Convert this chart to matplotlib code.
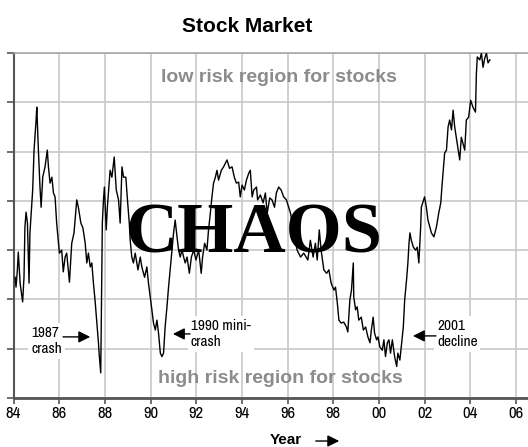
import matplotlib.pyplot as plt
from matplotlib.patches import FancyArrowPatch

# values (x = year, y = position in the 0..7 band)
years = [1984.07, 1984.11, 1984.17, 1984.21, 1984.29, 1984.40, 1984.46, 1984.50, 1984.55, 1984.61,
         1984.68, 1984.72, 1984.84, 1984.90, 1984.99, 1985.02, 1985.09, 1985.16, 1985.21, 1985.28,
         1985.38, 1985.48, 1985.53, 1985.60, 1985.68, 1985.75, 1985.82, 1985.89, 1986.01, 1986.11,
         1986.18, 1986.26, 1986.33, 1986.45, 1986.55, 1986.65, 1986.77, 1986.84, 1986.95, 1987.04,
         1987.14, 1987.21, 1987.28, 1987.36, 1987.43, 1987.50, 1987.57, 1987.65, 1987.72, 1987.76,
         1987.82, 1987.85, 1987.89, 1987.94, 1987.98, 1988.06, 1988.11, 1988.23, 1988.31, 1988.41,
         1988.50, 1988.60, 1988.67, 1988.75, 1988.82, 1988.92, 1988.99, 1989.07, 1989.11, 1989.18,
         1989.25, 1989.33, 1989.45, 1989.55, 1989.62, 1989.74, 1989.84, 1989.91, 1989.99, 1990.06,
         1990.13, 1990.21, 1990.28, 1990.35, 1990.43, 1990.50, 1990.57, 1990.64, 1990.72, 1990.79,
         1990.86, 1990.94, 1991.01, 1991.08, 1991.16, 1991.23, 1991.30, 1991.38, 1991.45, 1991.52,
         1991.60, 1991.70, 1991.79, 1991.89, 1991.99, 1992.11, 1992.22, 1992.28, 1992.37, 1992.47,
         1992.54, 1992.62, 1992.69, 1992.76, 1992.84, 1992.91, 1992.98, 1993.10, 1993.20, 1993.35,
         1993.46, 1993.57, 1993.67, 1993.76, 1993.86, 1993.93, 1994.01, 1994.11, 1994.20, 1994.30,
         1994.37, 1994.45, 1994.52, 1994.64, 1994.69, 1994.81, 1994.93, 1995.03, 1995.11, 1995.22,
         1995.32, 1995.43, 1995.51, 1995.61, 1995.72, 1995.83, 1995.95, 1996.05, 1996.13, 1996.26,
         1996.42, 1996.57, 1996.71, 1996.89, 1997.00, 1997.12, 1997.22, 1997.30, 1997.39, 1997.47,
         1997.59, 1997.71, 1997.81, 1997.91, 1998.03, 1998.10, 1998.18, 1998.25, 1998.35, 1998.46,
         1998.58, 1998.64, 1998.73, 1998.80, 1998.88, 1998.90, 1998.98, 1999.05, 1999.12, 1999.23,
         1999.32, 1999.42, 1999.52, 1999.61, 1999.67, 1999.75, 1999.81, 1999.90, 1999.96, 2000.04,
         2000.15, 2000.22, 2000.29, 2000.37, 2000.44, 2000.51, 2000.59, 2000.69, 2000.78, 2000.83,
         2000.92, 2000.98, 2001.07, 2001.13, 2001.21, 2001.27, 2001.32, 2001.36, 2001.42, 2001.51,
         2001.61, 2001.68, 2001.75, 2001.83, 2001.86, 2002.00, 2002.08, 2002.15, 2002.30, 2002.41,
         2002.52, 2002.62, 2002.71, 2002.76, 2002.81, 2002.88, 2002.96, 2003.03, 2003.10, 2003.18,
         2003.25, 2003.32, 2003.39, 2003.46, 2003.54, 2003.61, 2003.68, 2003.76, 2003.83, 2003.93,
         2004.02, 2004.12, 2004.23, 2004.27, 2004.31, 2004.42, 2004.49, 2004.56, 2004.64, 2004.71,
         2004.78, 2004.86]
values = [2.45, 2.25, 2.60, 2.96, 2.33, 1.95, 2.45, 3.47, 3.77, 3.55,
          2.33, 3.35, 4.22, 5.03, 5.64, 5.90, 5.03, 4.28, 3.87, 4.48,
          4.69, 5.03, 4.69, 4.36, 4.48, 4.16, 4.08, 3.55, 2.94, 3.00,
          2.56, 2.86, 2.94, 2.35, 3.14, 3.35, 4.02, 3.87, 3.55, 3.45,
          3.14, 2.74, 2.94, 2.66, 2.74, 2.33, 1.99, 1.52, 1.12, 0.84,
          0.51, 1.85, 3.55, 4.02, 4.28, 3.41, 3.87, 4.62, 4.48, 4.89,
          4.22, 4.02, 3.55, 4.69, 4.48, 4.48, 4.02, 3.55, 3.20, 2.86,
          2.74, 2.94, 2.60, 2.86, 2.66, 2.45, 2.66, 2.33, 2.05, 1.79,
          1.52, 1.38, 1.58, 1.32, 0.91, 0.84, 0.91, 1.44, 1.85, 2.25,
          2.60, 3.00, 3.35, 3.61, 3.27, 3.00, 2.86, 3.00, 2.86, 2.74,
          2.86, 2.53, 2.86, 3.00, 2.80, 3.00, 2.53, 2.86, 3.14, 3.00,
          3.41, 3.75, 4.08, 4.36, 4.48, 4.62, 4.42, 4.62, 4.69, 4.83,
          4.66, 4.69, 4.48, 4.36, 4.38, 4.08, 4.32, 4.22, 4.42, 4.56,
          4.62, 4.08, 4.22, 4.28, 4.02, 4.12, 3.96, 4.16, 3.75, 4.06,
          4.02, 3.87, 4.16, 4.28, 4.22, 4.08, 4.02, 3.87, 3.75, 3.40,
          3.00, 2.86, 2.94, 2.80, 3.20, 2.86, 3.14, 2.80, 3.41, 3.00,
          2.60, 2.53, 2.60, 2.33, 2.19, 2.25, 1.93, 1.58, 1.52, 1.54,
          1.44, 1.34, 1.99, 2.19, 2.74, 2.05, 1.79, 1.85, 1.58, 1.64,
          1.38, 1.44, 1.24, 1.12, 1.38, 1.64, 1.32, 1.18, 1.24, 1.04,
          0.97, 1.18, 0.84, 1.12, 1.18, 0.91, 1.18, 0.84, 0.64, 0.91,
          0.77, 1.04, 1.44, 1.99, 2.39, 2.74, 3.14, 3.35, 3.20, 3.06,
          3.00, 3.06, 2.74, 3.47, 3.87, 4.08, 3.87, 3.61, 3.35, 3.27,
          3.47, 3.75, 3.96, 4.28, 4.56, 4.97, 5.03, 5.50, 5.64, 5.44,
          5.84, 5.50, 5.29, 5.09, 4.83, 5.29, 5.17, 5.03, 5.64, 5.70,
          6.04, 5.90, 5.80, 6.59, 6.92, 6.86, 7.00, 6.71, 6.90, 7.00,
          6.80, 6.86]

tick_years = list(range(1984, 2007, 2))
tick_labels = ['84', '86', '88', '90', '92', '94', '96', '98', '00', '02', '04', '06']

narrow = ['Archivo Narrow', 'Liberation Sans']

fig = plt.figure(figsize=(5.28, 4.47), dpi=100)
ax = fig.add_axes([13.5 / 528, 49 / 447, 514.5 / 528, 345 / 447])

ax.plot(years, values, color='black', lw=1.0, zorder=3)

ax.set_xlim(1984, 2006.53)
ax.set_ylim(0, 7)
ax.set_xticks(tick_years)
ax.set_xticklabels(tick_labels, family=narrow, fontsize=12)
ax.set_yticks(range(0, 8))
ax.tick_params(axis='y', direction='out', length=5, width=1.2, color='#555555', labelleft=False)
ax.tick_params(axis='x', direction='out', length=4, width=1.2, color='#555555', pad=2)
ax.grid(color='#c8c8c8', lw=1.2, zorder=0)
ax.set_axisbelow(True)

ax.spines['right'].set_visible(False)
ax.spines['top'].set_color('#a8a8a8')
ax.spines['top'].set_linewidth(1.2)
ax.spines['left'].set_color('#555555')
ax.spines['left'].set_linewidth(1.5)
ax.spines['bottom'].set_color('#555555')
ax.spines['bottom'].set_linewidth(2)

ax.text(1995.62, 6.41, 'low risk region for stocks', ha='center', va='baseline',
        color='#8c8c8c', fontsize=14, fontweight='bold', family='Liberation Sans', zorder=4)
ax.text(1995.67, 0.30, 'high risk region for stocks', ha='center', va='baseline',
        color='#8c8c8c', fontsize=14, fontweight='bold', family='Liberation Sans', zorder=2)
ax.text(1994.51, 2.96, 'CHAOS', ha='center', va='baseline', color='black',
        fontsize=52, fontweight='bold', family='Liberation Serif', zorder=5)

box = dict(facecolor='white', edgecolor='none', pad=2)
ax.text(1984.77, 1.16, '1987\ncrash', ha='left', va='center', fontsize=11,
        family=narrow, linespacing=1.2, bbox=box, zorder=4)
ax.text(1991.77, 1.30, '1990 mini-\ncrash', ha='left', va='center', fontsize=11,
        family=narrow, linespacing=1.2, bbox=box, zorder=4)
ax.text(2002.54, 1.30, '2001\ndecline', ha='left', va='center', fontsize=11,
        family=narrow, linespacing=1.2, bbox=box, zorder=4)

arrow = dict(arrowstyle='-|>,head_length=0.5,head_width=0.25', mutation_scale=14,
             lw=1.0, color='black', shrinkA=0, shrinkB=0)
ax.annotate('', xy=(1987.36, 1.24), xytext=(1986.17, 1.24), arrowprops=arrow, zorder=4)
ax.annotate('', xy=(1990.98, 1.30), xytext=(1991.73, 1.30), arrowprops=arrow, zorder=4)
ax.annotate('', xy=(2001.49, 1.26), xytext=(2002.50, 1.26), arrowprops=arrow, zorder=4)

fig.text(0.468, 0.929, 'Stock Market', ha='center', va='baseline', fontsize=15,
         fontweight='bold', family='Liberation Sans')
fig.text(0.5417, 0.006, 'Year', ha='center', va='baseline', fontsize=11,
         fontweight='bold', family='Liberation Sans')
fig.add_artist(FancyArrowPatch(
    (313 / 528, 0.0134), (342 / 528, 0.0134), transform=fig.transFigure,
    arrowstyle='-|>,head_length=0.5,head_width=0.25', mutation_scale=14,
    lw=1.0, color='black'))

fig.savefig('out.png', dpi=100)
